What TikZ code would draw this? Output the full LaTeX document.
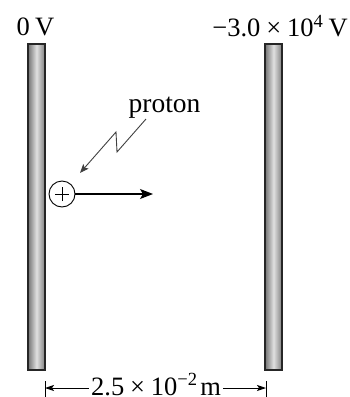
\documentclass[tikz,border=0pt]{standalone}
\usepackage{fontspec}
\setmainfont{Liberation Serif}
\usetikzlibrary{arrows.meta}
\newcommand{\tms}{\hspace{0.22em}×\hspace{0.22em}}
\begin{document}
\begin{tikzpicture}[x=1pt,y=-1pt,
  plate/.style={draw=black!85, line width=1.2pt, left color=black!55, right color=black!50, middle color=black!12,
    minimum width=17pt, minimum height=326pt, inner sep=0pt, outer sep=0pt},
  lbl/.style={font=\fontsize{26.5}{30}\selectfont, inner sep=0pt, anchor=base},
  mainarrow/.style={line width=1.1pt, -{Stealth[length=13pt,width=10pt,inset=3pt]}},
  ziz/.style={line width=0.9pt, draw=black!75, -{Stealth[length=9pt,width=7pt,inset=2pt]}},
  dimarrow/.style={line width=0.9pt, -{Stealth[length=9pt,width=6pt,inset=2pt]}},
  tick/.style={line width=1pt}]
\useasboundingbox (0,0) rectangle (349,397);
% plates
\node[plate] (L) at (36.5,207) {};
\node[plate] (R) at (273.5,207) {};
% labels
\node[lbl] (lv) at (35.5,35) {0\hspace{0.2em}V};
\node[lbl, anchor=base east] (rv) at (348,36.5) {−3.0\tms10\textsuperscript{4}\hspace{0.2em}V};
\node[lbl, font=\fontsize{27.5}{30}\selectfont] (pt) at (164.5,112) {proton};
% proton
\node[draw, circle, line width=0.9pt, minimum size=26pt, inner sep=0pt] (p) at (62,194) {};
\draw[line width=0.8pt] ([xshift=-7pt]p.center) -- ([xshift=7pt]p.center);
\draw[line width=0.8pt] ([yshift=-7pt]p.center) -- ([yshift=7pt]p.center);
\coordinate (v) at (153,194);
\draw[mainarrow] (p.east) -- (v);
% zigzag pointer
\coordinate (z1) at (146,119);
\coordinate (z2) at (117,152);
\coordinate (z3) at (116,132);
\coordinate (z4) at (80,173);
\draw[ziz] (z1) -- (z2) -- (z3) -- (z4);
% dimension
\coordinate (ta1) at (45,381);
\coordinate (tb1) at (45,400);
\coordinate (ta2) at (266,381);
\coordinate (tb2) at (266,400);
\draw[tick] (ta1) -- (tb1);
\draw[tick] (ta2) -- (tb2);
\coordinate (dl) at (45,388);
\coordinate (dr) at (266,388);
\node[lbl] (d) at (156,395) {2.5\tms10\textsuperscript{−2}\hspace{0.1em}m};
\draw[dimarrow] (d.west |- dl) ++(-2,0) -- (dl);
\draw[dimarrow] (d.east |- dr) ++(2,0) -- (dr);
\end{tikzpicture}
\end{document}
